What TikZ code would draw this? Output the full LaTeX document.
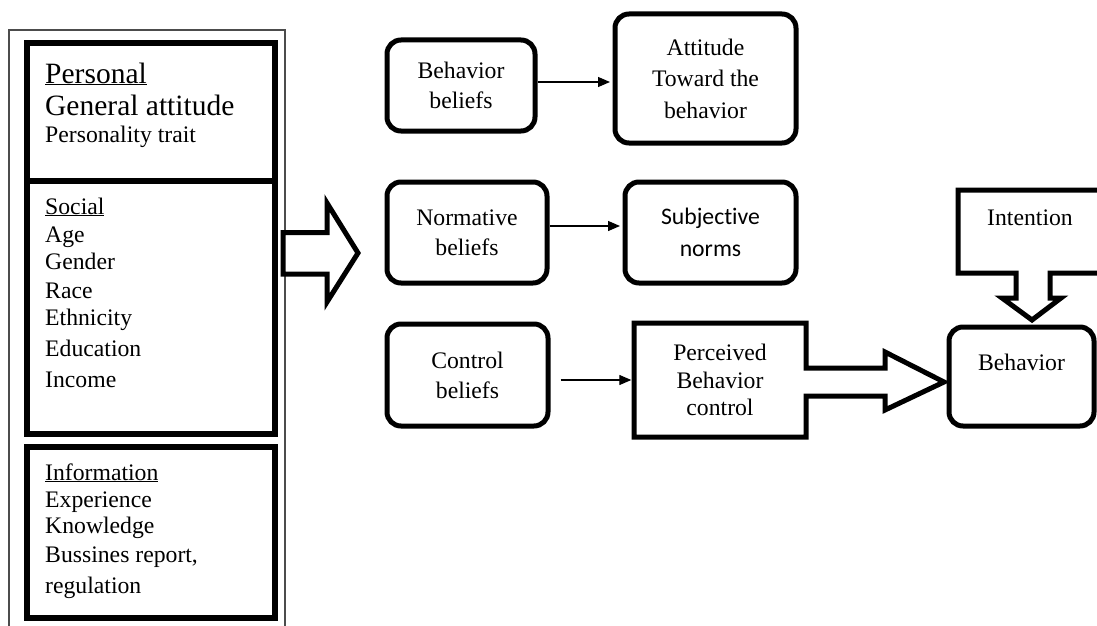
\documentclass[tikz,border=0pt]{standalone}
\usepackage{fontspec}
\setmainfont{Liberation Serif}
\newfontfamily\calib[Ligatures={NoCommon}]{Carlito}
\usetikzlibrary{arrows.meta}
\newcommand\myfs{\fontsize{23.7}{30}\selectfont}
\newcommand\bigfs{\fontsize{29.5}{34}\selectfont}
\begin{document}
\begin{tikzpicture}[x=1pt,y=-1pt,
  thickbox/.style={line width=6pt},
  rbox/.style={draw, line width=5pt, rounded corners=14pt, align=center, font=\myfs, inner sep=0pt},
  lt/.style={anchor=base west, inner sep=0pt, font=\myfs},
  blockarrow/.style={draw, line width=5pt, fill=white, line join=miter, miter limit=10},
  conn/.style={line width=1.3pt, -{Triangle[length=12pt,width=10pt]}}]
\useasboundingbox (0,0) rectangle (1097,626);
\clip (0,0) rectangle (1097,626);

% left column
\draw[line width=1.3pt, black!70] (9,30) rectangle (285,640);
\draw[thickbox] (27,43) rectangle (275,434);
\draw[thickbox] (27,181) -- (275,181);
\draw[thickbox] (27,447) rectangle (275,618);

\node[lt, font=\bigfs] (p1) at (45,83) {\underline{Personal}};
\node[lt, font=\bigfs] (p2) at (45,115) {General attitude};
\node[lt] (p3) at (45,142) {Personality trait};

\foreach \t/\y [count=\i] in {{\underline{Social}}/214, Age/242, Gender/269, Race/298, Ethnicity/325, Education/356, Income/387}
  \node[lt] (s\i) at (45,\y) {\t};

\foreach \t/\y [count=\i] in {{\underline{Information}}/480, Experience/507, Knowledge/533, {Bussines report,}/562, regulation/593}
  \node[lt] (f\i) at (45,\y) {\t};

% big arrow from left column
\draw[blockarrow] (283,232.5) -- (327,232.5) -- (327,203) -- (358,253) -- (327,302) -- (327,274) -- (283,274) -- cycle;

% perceived behavior control box with block arrow (drawn before its text)
\draw[blockarrow] (634,323) -- (806,323) -- (806,368) -- (885,368) -- (885,352) -- (944,382) -- (885,410) -- (885,396) -- (806,396) -- (806,437) -- (634,437) -- cycle;

% intention box with block arrow
\draw[blockarrow] (1115,190) -- (958,190) -- (958,273) -- (1016,273) -- (1016,298) -- (1002,298) -- (1032,320) -- (1061,298) -- (1050,298) -- (1050,273) -- (1115,273);
\node[anchor=base, inner sep=0pt, font=\myfs] (int) at (1030,225) {Intention};

% belief boxes
\node[rbox, minimum width=148pt, minimum height=91pt] (bb) at (461,85.5) {Behavior\\beliefs};
\node[rbox, minimum width=181pt, minimum height=129pt, font=\fontsize{23.7}{31.5}\selectfont] (att) at (705.5,78.5) {Attitude\\Toward the\\behavior};
\node[rbox, minimum width=160pt, minimum height=101pt] (nb) at (467,232.5) {Normative\\beliefs};
\node[rbox, minimum width=171pt, minimum height=101pt, font=\calib\fontsize{23.7}{32}\selectfont] (sn) at (710.5,232.5) {Subjective\\norms};
\node[rbox, minimum width=161pt, minimum height=102pt] (cb) at (467.5,375) {Control\\beliefs};
\node[align=center, inner sep=0pt, font=\fontsize{23.7}{27.5}\selectfont, minimum width=172pt, minimum height=114pt] (pbc) at (720,380) {Perceived\\Behavior\\control};
\node[rbox, minimum width=145pt, minimum height=99pt] (beh) at (1021.5,376.5) {\raisebox{14pt}[\height][\depth]{Behavior}};

% connectors
\draw[conn, shorten >=2.5pt] ([yshift=3.5pt]bb.east) -- ([yshift=3.5pt]bb.east -| att.west);
\draw[conn, shorten >=2.5pt] ([yshift=6.5pt]nb.east) -- ([yshift=6.5pt]nb.east -| sn.west);
\draw[conn, shorten <=10pt, shorten >=2.5pt] ([yshift=-5pt]cb.east) -- ([yshift=-5pt]cb.east -| pbc.west);
\end{tikzpicture}
\end{document}
